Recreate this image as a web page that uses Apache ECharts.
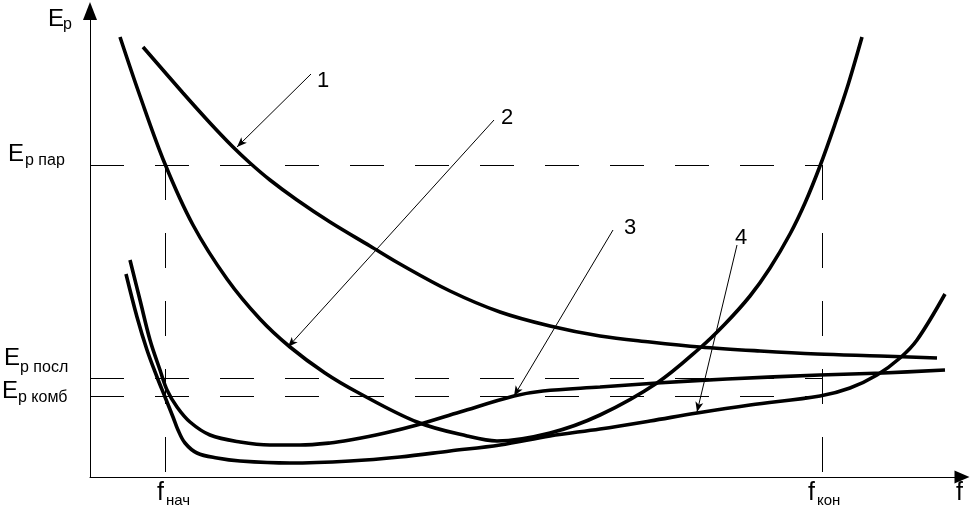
<!DOCTYPE html>
<html><head><meta charset="utf-8">
<script src="https://cdn.jsdelivr.net/npm/echarts@6/dist/echarts.min.js"></script>
<style>html,body{margin:0;padding:0;background:#fff}#c{width:971px;height:515px}</style>
</head><body><div id="c"></div>
<script>
// ---- data (x: frequency f, y: Ep) ----
const curve1 = [[53,430],[93,384],[120,354],[142,331],[160,314],[180,297],[207,277],[240,255],[280,231],[310,213],[360,186],[410,165],[460,151],[510,141],[560,135],[610,130],[670,126],[727,123],[790,121],[847,119]];
const curve2 = [[30,440],[50,381],[75,313],[103,252],[137,198],[170,158],[200,130],[235,104],[267,85],[327,55],[377,41],[407,36],[460,44],[510,62],[567,94],[610,129],[635,153],[660,181],[680,209],[700,243],[715,274],[730,311],[745,353],[758,392],[772,440]];
const curve3 = [[40,217],[50,177],[60,137],[70,107],[77,87],[87,70],[100,55],[120,42],[150,35],[180,32],[210,32],[240,34],[260,37],[295,44],[327,52],[370,65],[424,81],[453,86],[510,90],[567,94],[637,98],[730,102],[793,104],[855,107]];
const curve4 = [[36,203],[47,160],[57,127],[67,100],[75,80],[83,60],[88,47],[95,34],[107,24],[127,19],[150,16],[200,14],[260,16],[310,20],[360,26],[410,32],[460,41],[510,48],[560,56],[607,64],[660,72],[730,81],[760,89],[787,102],[810,119],[827,137],[855,183]];
const curveNames = ['1','2','3','4'];
const levelNames = ['р пар','р посл','р комб'];
const levelValues = [312, 99, 81];
const fNames = ['нач','кон'];
const fValues = [75, 732];
const leaderFrom = [[221,403],[404,357],[523,247],[647,232]];
const leaderTo = [[147,330],[198,130],[424,81],[607,65]];
const xMax = 872, yMax = 466;

const FONT = "'Liberation Sans', Arial, sans-serif";
const chart = echarts.init(document.getElementById('c'), null, {renderer:'canvas'});

const guides = [];
levelValues.forEach(v => {
  guides.push([{coord:[0, v], symbol:'none'}, {coord:[fValues[1], v], symbol:'none', lineStyle:{type:[34,31], width:1, color:'#000'}}]);
});
fValues.forEach(v => {
  guides.push([{coord:[v, levelValues[0]], symbol:'none'}, {coord:[v, 0], symbol:'none', lineStyle:{type:[35,33], width:1, color:'#000'}}]);
});
const leaders = leaderFrom.map((p, i) => [{coord:p, symbol:'none'}, {coord:leaderTo[i], symbol:'arrow'}]);

function curveSeries(name, data) {
  return {type:'line', name, data, showSymbol:false, symbol:'none', smooth:0.35, silent:true,
    lineStyle:{color:'#000', width:3.6}, z:3};
}

const T = (text, x, y, size) => ({type:'text', x, y, silent:true,
  style:{text, fill:'#000', font: size + 'px ' + FONT, align:'left', verticalAlign:'middle', textAlign:'left', textVerticalAlign:'middle'}});

const option = {
  animation:false,
  backgroundColor:'#fff',
  grid:{left:90, right:9, top:11, bottom:38, containLabel:false},
  xAxis:{type:'value', min:0, max:xMax, splitLine:{show:false}, axisTick:{show:false}, axisLabel:{show:false},
    axisLine:{show:true, onZero:false, symbol:['none','triangle'], symbolSize:[13,15], lineStyle:{color:'#000', width:1}}},
  yAxis:{type:'value', min:0, max:yMax, splitLine:{show:false}, axisTick:{show:false}, axisLabel:{show:false},
    axisLine:{show:true, onZero:false, symbol:['none','triangle'], symbolSize:[14,18], lineStyle:{color:'#000', width:1}}},
  series:[
    {type:'line', name:'guides', data:[], silent:true, z:1,
     markLine:{silent:true, animation:false, symbol:'none', label:{show:false}, lineStyle:{color:'#000', width:1},
       emphasis:{disabled:true}, data:guides}},
    {type:'line', name:'leaders', data:[], silent:true, z:2,
     markLine:{silent:true, animation:false, symbol:['none','arrow'], symbolSize:[6,10], label:{show:false},
       lineStyle:{color:'#000', width:1, type:'solid'}, emphasis:{disabled:true}, data:leaders}},
    curveSeries(curveNames[0], curve1),
    curveSeries(curveNames[1], curve2),
    curveSeries(curveNames[2], curve3),
    curveSeries(curveNames[3], curve4)
  ],
  graphic:[
    T('E', 48, 19, 24), T('р', 63, 25, 16),
    T('E', 8, 154, 24), T(levelNames[0], 25, 161, 16),
    T('E', 4, 358, 24), T(levelNames[1], 20, 368, 16),
    T('E', 2, 391, 24), T(levelNames[2], 18, 398, 16),
    T('f', 157, 493, 25), T(fNames[0], 166, 501, 15),
    T('f', 808, 493, 25), T(fNames[1], 817, 501, 15),
    T('f', 956, 493, 25),
    T(curveNames[0], 317, 81, 22), T(curveNames[1], 501, 118, 22),
    T(curveNames[2], 624, 228, 22), T(curveNames[3], 735, 238, 22)
  ]
};
chart.setOption(option);
</script></body></html>
